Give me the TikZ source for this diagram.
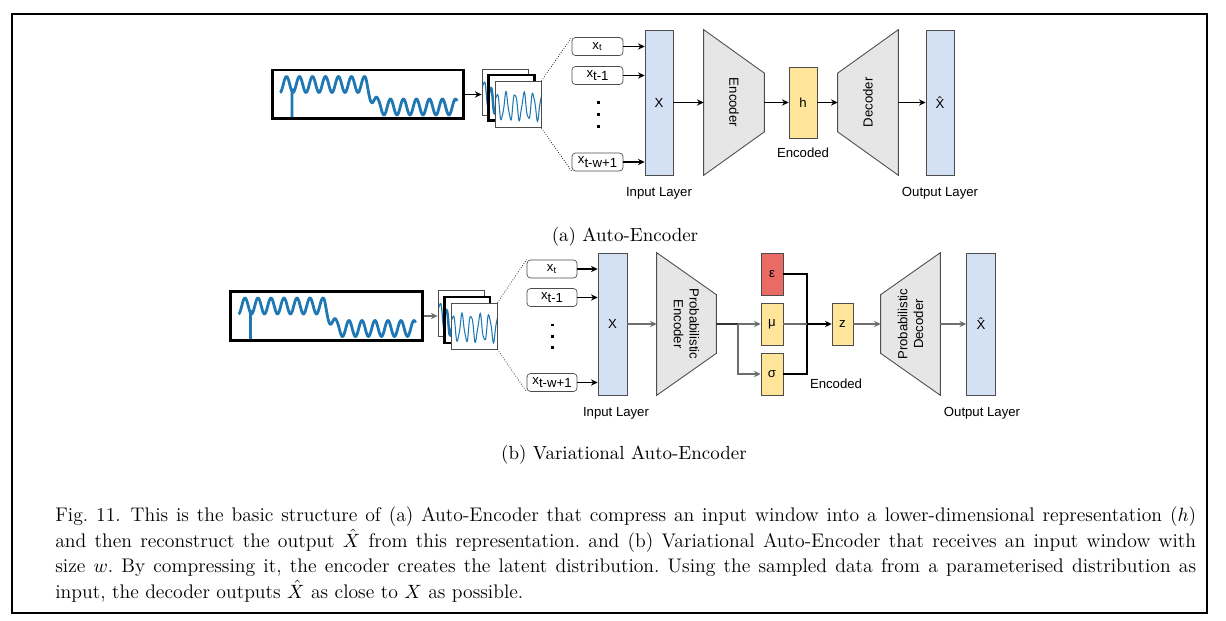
\documentclass[tikz,border=0pt]{standalone}
\usepackage{fontspec}
\newfontfamily\diafont{Liberation Sans}
\usetikzlibrary{positioning,arrows.meta}

\definecolor{layblue}{HTML}{D4E1F5}
\definecolor{trapgray}{HTML}{E6E6E6}
\definecolor{latyel}{HTML}{FFE599}
\definecolor{epsred}{HTML}{EA6B66}
\definecolor{edgegray}{HTML}{4D4D4D}
\definecolor{linegray}{HTML}{6E6E6E}
\definecolor{wblue}{HTML}{1F77B4}

\begin{document}
\begin{tikzpicture}[
  x=0.02cm, y=-0.02cm,
  lbl/.style={font=\diafont\fontsize{7.5}{9}\selectfont, inner sep=0pt},
  series/.style={draw, line width=1.7pt, fill=white, minimum width=3.84cm, minimum height=0.98cm, inner sep=0pt,
    path picture={
      \draw[wblue, line width=1.6pt, line join=round, shift={(path picture bounding box.center)}]
        plot[domain=-88:89, samples=300] (\x, {(\x < -2 ? -10 : (\x > 10 ? 12.5 : -10+(\x+2)*1.875)) + 8*sin(27.7*(\x+88)+90)})
        (-76,-6) -- (-76,30);
    }},
  win/.style={draw=edgegray, fill=white, line width=0.5pt, minimum width=0.92cm, minimum height=0.92cm, inner sep=0pt,
    path picture={
      \draw[wblue, line width=#1, shift={(path picture bounding box.center)}]
        plot[domain=-24:24, samples=150] (\x, {2+13*sin(40*\x+30)+2*sin(97*\x)});
    }},
  inbox/.style={lbl, draw=edgegray, fill=white, rounded corners=2pt, minimum width=1.02cm, minimum height=0.36cm},
  inlayer/.style={lbl, draw=edgegray, fill=layblue, minimum width=0.56cm, minimum height=2.9cm},
  hull/.style={minimum width=1.2cm, minimum height=2.9cm, inner sep=0pt},
  trap/.style={draw=edgegray, fill=trapgray, line width=0.5pt},
  latent/.style={lbl, draw=edgegray, fill=latyel},
  vdot/.style={fill=black, rectangle, minimum size=0.06cm, inner sep=0pt},
  arr/.style={-{Stealth[length=3.8pt,width=3.6pt]}, line width=0.6pt},
  arrB/.style={arr, draw=linegray, line width=0.75pt},
  sub/.style={font=\fontsize{10.8}{13}\selectfont, inner sep=0pt}
]

\useasboundingbox (0,0) rectangle (1226,621);
\draw[line width=0.85pt] (12,14) rectangle (1207,613);

% (a)
\node[series] (sA) at (368,94.5) {};
\node[win=0.7pt] (wA1) at (505,92) {};
\node[win=1.4pt, draw=black, line width=1.7pt] (wA2) at (511.5,98) {};
\node[win=0.6pt] (wA3) at (518,104.5) {};
\draw[arr] (sA.east) -- (sA.east -| wA1.west);

\node[inbox] (xtA) at (597.5,46.5) {x\textsubscript{t}};
\node[inbox] (xt1A) at (597.5,75.5) {x\raisebox{-0.5ex}{t-1}};
\node[inbox] (xwA) at (597.5,162) {x\raisebox{-0.5ex}{t-w+1}};
\foreach \y [count=\i] in {103,115,127}
  \node[vdot] (dA\i) at (598,\y) {};
\draw[densely dotted, thin] (wA3.north east) -- (xtA.north west);
\draw[densely dotted, thin] (wA3.south east) -- (xwA.south west);

\node[inlayer] (inA) at (659,102.5) {X};
\foreach \b in {xtA,xt1A,xwA}
  \draw[arr] (\b.east) -- (\b.east -| inA.west);

\node[hull] (encA) at (734,102.5) {};
\draw[trap] (encA.north west) -- (encA.south west) -- ([yshift=0.87cm]encA.south east) -- ([yshift=-0.87cm]encA.north east) -- cycle;
\node[lbl, rotate=-90] at (encA) {Encoder};

\node[latent, minimum width=0.56cm, minimum height=1.42cm] (hA) at (803,102.5) {h};
\node[lbl] (encodedA) at (803,153) {Encoded};

\node[hull] (decA) at (868,102.5) {};
\draw[trap] ([yshift=-0.87cm]decA.north west) -- ([yshift=0.87cm]decA.south west) -- (decA.south east) -- (decA.north east) -- cycle;
\node[lbl, rotate=90] at (decA) {Decoder};

\node[inlayer] (outA) at (940,102.5) {\^{X}};

\draw[arr] (inA) -- (encA);
\draw[arr] (encA) -- (hA);
\draw[arr] (hA) -- (decA);
\draw[arr] (decA) -- (outA);

\node[lbl] (inlabA) at (659,193) {Input Layer};
\node[lbl] (outlabA) at (940,193) {Output Layer};
\node[sub] (subA) at (625,237) {(a) Auto-Encoder};

% (b)
\node[series] (sB) at (326.5,316) {};
\node[win=0.7pt] (wB1) at (461,313.5) {};
\node[win=1.4pt, draw=black, line width=1.7pt] (wB2) at (467,320) {};
\node[win=0.6pt] (wB3) at (474,326) {};
\draw[arr, draw=linegray] (sB.east) -- (sB.east -| wB1.west);

\node[inbox, minimum width=1cm] (xtB) at (552,269) {x\textsubscript{t}};
\node[inbox, minimum width=1cm] (xt1B) at (552,297.5) {x\raisebox{-0.5ex}{t-1}};
\node[inbox, minimum width=1cm] (xwB) at (552,382.5) {x\raisebox{-0.5ex}{t-w+1}};
\foreach \y [count=\i] in {325,336,347}
  \node[vdot] (dB\i) at (552,\y) {};
\draw[densely dotted, thin] (wB3.north east) -- (xtB.north west);
\draw[densely dotted, thin] (wB3.south east) -- (xwB.south west);

\node[inlayer, minimum width=0.58cm, minimum height=2.84cm] (inB) at (612.5,324) {X};
\foreach \b in {xtB,xt1B,xwB}
  \draw[arr] (\b.east) -- (\b.east -| inB.west);

\node[hull, minimum width=1.18cm, minimum height=2.84cm] (encB) at (686.5,324) {};
\draw[trap] (encB.north west) -- (encB.south west) -- ([yshift=0.84cm]encB.south east) -- ([yshift=-0.84cm]encB.north east) -- cycle;
\node[lbl, rotate=-90, align=center] at (encB) {Probabilistic\\Encoder};

\node[latent, fill=epsred, minimum width=0.44cm, minimum height=0.84cm] (eps) at (772,274) {ε};
\node[latent, minimum width=0.44cm, minimum height=0.84cm] (mu) at (772,324) {μ};
\node[latent, minimum width=0.44cm, minimum height=0.84cm] (sigma) at (772,374) {σ};
\node[latent, minimum width=0.42cm, minimum height=0.84cm] (z) at (842.5,324) {z};
\node[lbl] (encodedB) at (836,384) {Encoded};

\node[hull, minimum width=1.18cm, minimum height=2.84cm] (decB) at (910.5,324) {};
\draw[trap] ([yshift=-0.84cm]decB.north west) -- ([yshift=0.84cm]decB.south west) -- (decB.south east) -- (decB.north east) -- cycle;
\node[lbl, rotate=90, align=center] at (decB) {Probabilistic\\Decoder};

\node[inlayer, minimum width=0.58cm, minimum height=2.84cm] (outB) at (981,324) {\^{X}};

\coordinate (split) at (738,324);
\coordinate (mix) at (807,324);
\draw[arrB] (inB) -- (encB);
\draw[line width=0.9pt, draw=black!80] (encB) -- (split);
\draw[arrB] (split) -- (mu);
\draw[arrB] (split) |- (sigma);
\draw[line width=0.7pt] (eps) -| (mix);
\draw[line width=0.7pt] (sigma) -| (mix);
\draw[line width=0.75pt, draw=linegray] (mu) -- (mix);
\draw[arr, line width=0.9pt] (mix) -- (z);
\draw[arrB] (z) -- (decB);
\draw[arrB] (decB) -- (outB);

\node[lbl] (inlabB) at (616,413) {Input Layer};
\node[lbl] (outlabB) at (982,413) {Output Layer};
\node[sub] (subB) at (624,455) {(b) Variational Auto-Encoder};

% caption
\node[anchor=north west, inner sep=0pt, text width=22.82cm, align=justify, font=\fontsize{11.2}{14.74}\selectfont\frenchspacing] (cap) at (55,506)
  {Fig.~11.\enspace This is the basic structure of (a) Auto-Encoder that compress an input window into a lower-dimensional representation ($h$)\linebreak
   and then reconstruct the output $\hat{X}$ from this representation. and (b) Variational Auto-Encoder that receives an input window with\linebreak
   size $w$. By compressing it, the encoder creates the latent distribution. Using the sampled data from a parameterised distribution as\linebreak
   input, the decoder outputs $\hat{X}$ as close to $X$ as possible.};

\end{tikzpicture}
\end{document}
